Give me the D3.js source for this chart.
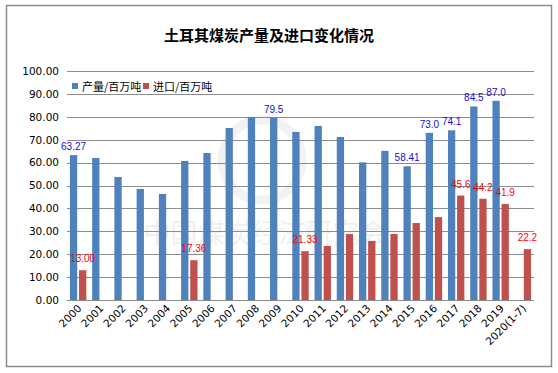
<!DOCTYPE html>
<html>
<head>
<meta charset="utf-8">
<script src="https://cdnjs.cloudflare.com/ajax/libs/d3/7.8.5/d3.min.js"></script>
<style>
  body { margin: 0; background: #fff; }
</style>
</head>
<body>
<script>
'use strict';

// categories + values
const years = ['2000', '2001', '2002', '2003', '2004', '2005', '2006', '2007', '2008', '2009',
  '2010', '2011', '2012', '2013', '2014', '2015', '2016', '2017', '2018', '2019', '2020(1-7)'];
const production = [63.27, 62.0, 53.7, 48.5, 46.3, 60.7, 64.2, 75.1, 79.9, 79.5,
  73.4, 76.0, 71.2, 60.1, 65.1, 58.41, 73.0, 74.1, 84.5, 87.0, null];
const imports = [13.00, null, null, null, null, 17.36, null, null, null, null,
  21.33, 23.6, 28.8, 25.8, 28.8, 33.6, 36.2, 45.6, 44.2, 41.9, 22.2];
// data labels shown in the chart (only some bars have one)
const productionLabels = ['63.27', null, null, null, null, null, null, null, null, '79.5',
  null, null, null, null, null, '58.41', '73.0', '74.1', '84.5', '87.0', null];
const importLabels = ['13.00', null, null, null, null, '17.36', null, null, null, null,
  '21.33', null, null, null, null, null, null, '45.6', '44.2', '41.9', '22.2'];
const yTicks = [0, 10, 20, 30, 40, 50, 60, 70, 80, 90, 100];
const seriesNames = ['产量/百万吨', '进口/百万吨'];

const width = 558, height = 373;
const blue = '#4F81BD', red = '#C0504D';

let svg = d3.select('body').append('svg')
  .attr('width', width)
  .attr('height', height);

// outer frame
svg.append('rect')
  .attr('x', 6.5).attr('y', 5.5)
  .attr('width', 545).attr('height', 361)
  .attr('fill', '#fff')
  .attr('stroke', '#8c8c8c')
  .attr('stroke-width', 1.5);

// title
svg.append('text')
  .attr('x', 269).attr('y', 41)
  .attr('text-anchor', 'middle')
  .style('font-family', '"Noto Sans CJK SC", sans-serif')
  .style('font-size', '15px')
  .style('font-weight', 'bold')
  .text('土耳其煤炭产量及进口变化情况');

// scales
let x = d3.scaleBand().domain(years).range([67, 534]).paddingInner(0).paddingOuter(0);
let inner = d3.scaleBand().domain(['p', 'i']).range([0, x.bandwidth()])
  .paddingInner(0.2).paddingOuter(0.32);
let y = d3.scaleLinear().domain([0, 100]).range([300, 71]);

// faint watermark
let wm = svg.append('g').style('opacity', 0.07);
wm.append('circle').attr('cx', 262).attr('cy', 160).attr('r', 40)
  .attr('fill', 'none').attr('stroke', '#555').attr('stroke-width', 9);
wm.append('text')
  .attr('x', 265).attr('y', 243)
  .attr('text-anchor', 'middle')
  .style('font-family', '"Noto Sans CJK SC", sans-serif')
  .style('font-size', '27px')
  .attr('fill', '#333')
  .text('中国煤炭经济研究会');

// gridlines
svg.append('g')
  .selectAll('line')
  .data(yTicks)
  .enter()
  .append('line')
    .attr('x1', 67).attr('x2', 534)
    .attr('y1', d => Math.round(y(d)) + 0.5)
    .attr('y2', d => Math.round(y(d)) + 0.5)
    .attr('stroke', '#8c8c8c')
    .attr('stroke-width', 1);

// y axis labels
let yAxis = d3.axisLeft(y).tickValues(yTicks).tickFormat(d => d.toFixed(2)).tickSize(0).tickPadding(8);
svg.append('g')
  .attr('transform', 'translate(67, 0)')
  .call(yAxis)
  .call(g => g.select('.domain').remove())
  .selectAll('text')
    .style('font-family', '"DejaVu Sans", sans-serif')
    .style('font-size', '10.5px')
    .attr('fill', '#000');

// bars
let prodData = years.map((yr, i) => ({ yr: yr, v: production[i], label: productionLabels[i] }));
let impData = years.map((yr, i) => ({ yr: yr, v: imports[i], label: importLabels[i] }));

svg.append('g').selectAll('rect')
  .data(prodData.filter(d => d.v != null))
  .enter()
  .append('rect')
    .attr('x', d => x(d.yr) + inner('p'))
    .attr('width', inner.bandwidth())
    .attr('y', d => y(d.v))
    .attr('height', d => y(0) - y(d.v))
    .attr('fill', blue);

svg.append('g').selectAll('rect')
  .data(impData.filter(d => d.v != null))
  .enter()
  .append('rect')
    .attr('x', d => x(d.yr) + inner('i'))
    .attr('width', inner.bandwidth())
    .attr('y', d => y(d.v))
    .attr('height', d => y(0) - y(d.v))
    .attr('fill', red);

// data labels
svg.append('g').selectAll('text')
  .data(prodData.filter(d => d.label))
  .enter()
  .append('text')
    .attr('x', d => x(d.yr) + inner('p') + inner.bandwidth() / 2)
    .attr('y', d => y(d.v) - 5)
    .attr('text-anchor', 'middle')
    .style('font-family', '"Liberation Sans", sans-serif')
    .style('font-size', '10px')
    .attr('fill', '#1010E0')
    .text(d => d.label);

svg.append('g').selectAll('text')
  .data(impData.filter(d => d.label))
  .enter()
  .append('text')
    .attr('x', d => x(d.yr) + inner('i') + inner.bandwidth() / 2)
    .attr('y', d => y(d.v) - 8)
    .attr('text-anchor', 'middle')
    .style('font-family', '"Liberation Sans", sans-serif')
    .style('font-size', '10px')
    .attr('fill', '#FF0000')
    .text(d => d.label);

// x axis labels, rotated
svg.append('g').selectAll('text')
  .data(years)
  .enter()
  .append('text')
    .attr('transform', d => 'translate(' + (x(d) + x.bandwidth() / 2 + 4) + ', 309) rotate(-45)')
    .attr('text-anchor', 'end')
    .style('font-family', '"DejaVu Sans", sans-serif')
    .style('font-size', '10.5px')
    .attr('fill', '#000')
    .text(d => d);

// legend
let legend = svg.append('g');
let legendX = [72, 143];
[blue, red].forEach((c, i) => {
  legend.append('rect')
    .attr('x', legendX[i]).attr('y', 83)
    .attr('width', 6).attr('height', 6)
    .attr('fill', c);
  legend.append('text')
    .attr('x', legendX[i] + 10).attr('y', 90.5)
    .style('font-family', '"Noto Sans CJK SC", sans-serif')
    .style('font-size', '11px')
    .attr('fill', '#000')
    .text(seriesNames[i]);
});
</script>
</body>
</html>
